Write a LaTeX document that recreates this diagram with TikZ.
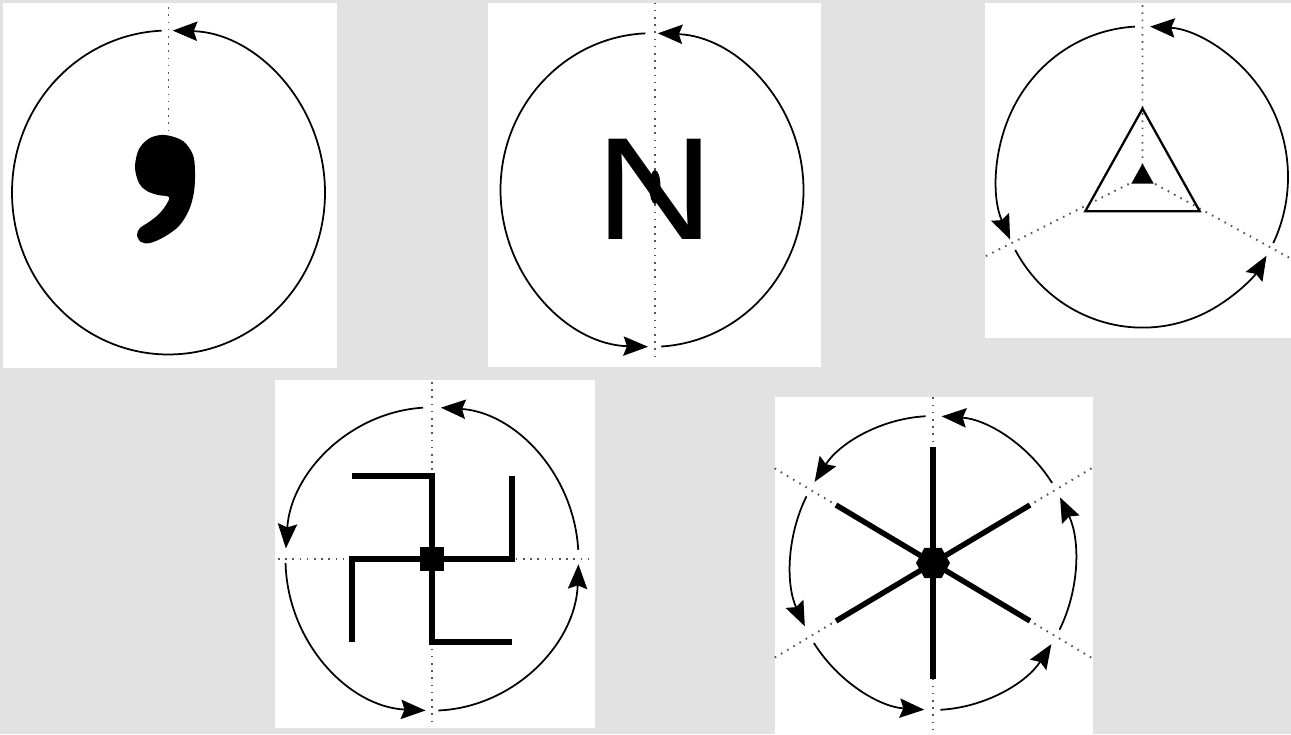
\documentclass[tikz,border=0pt]{standalone}
\usepackage{fontspec}
\setsansfont{Liberation Sans}
\usepackage{tikz}
\usetikzlibrary{arrows.meta}
\definecolor{bggray}{RGB}{226,226,226}
\definecolor{dotgray}{RGB}{85,85,85}

\begin{document}
\begin{tikzpicture}[x=0.02cm, y=0.02cm,
    panel/.style={fill=white, draw=none},
    rotarrow/.style={line width=1pt, -{Stealth[length=14pt, width=11pt, inset=2pt]}},
    symaxis/.style={dotgray, line width=1.1pt, dash pattern=on 0.9pt off 3.2pt},
    symline/.style={line width=3.1pt}
  ]
  % Hintergrund
  \fill[bggray] (0,0) rectangle (1291,-734);
  \useasboundingbox (0,0) rectangle (1291,-734);

  \fill[panel] (3,-3) rectangle (337,-368);
  \fill[panel] (488,-3) rectangle (821,-367);
  \fill[panel] (985,-3) rectangle (1291,-338);
  \fill[panel] (275,-380) rectangle (595,-728);
  \fill[panel] (775,-397) rectangle (1093,-734);

  % Feld 1: Komma
  \begin{scope}[shift={(168.5,-192.5)}, yscale=1.035]
    \draw[symaxis] (0,179) -- (0,54);
    \draw[rotarrow] (92.5:156.5) arc[start angle=92.5, end angle=448.5, radius=156.5];
  \end{scope}
  \fill plot[smooth cycle, tension=0.55] coordinates {(165,-135) (183,-141) (193,-155)
    (195,-172) (194,-192) (189,-210) (179,-226) (164,-237) (150,-243) (141,-242)
    (137,-235) (140,-228) (149,-222) (159,-214) (166,-205) (169,-197) (158,-195)
    (147,-191) (139,-183) (135,-167) (139,-149) (150,-138)};

  % Feld 2: N
  \begin{scope}[shift={(652,-190)}, yscale=1.035]
    \draw[symaxis] (3,181) -- (3,-166);
    \foreach \s/\e in {92.5/268.5, 273.5/447.8}
      \draw[rotarrow] (\s:151.5) arc[start angle=\s, end angle=\e, radius=151.5];
  \end{scope}
  \node[font=\sffamily\fontsize{83}{83}\selectfont, xscale=1.13, inner sep=0, anchor=base] (letterN) at (655,-239) {N};
  \fill (655,-187) ellipse [x radius=5.5, y radius=17];

  % Feld 3: Dreieck
  \begin{scope}[shift={(1142.5,-177)}, yscale=1.035]
    \draw[symaxis] (0,166) -- (0,0) -- (206:175);
    \draw[symaxis] (0,0) -- (332:168);
    \foreach \s/\e in {93/204.5, 209/328.5, 334/447}
      \draw[rotarrow] (\s:145.5) arc[start angle=\s, end angle=\e, radius=145.5];
    \draw[line width=1.3pt] (90:66) -- (210:66) -- (330:66) -- cycle;
    \fill (90:13) -- (210:13) -- (330:13) -- cycle;
  \end{scope}

  % Feld 4: Hakenkreuz
  \begin{scope}[shift={(432,-559)}, yscale=1.035]
    \draw[symaxis] (0,171) -- (0,-160);
    \draw[symaxis] (-154,0) -- (161,0);
    \foreach \s/\e in {3.5/86.5, 93.5/176, 181.5/267.5, 272.5/358}
      \draw[rotarrow] (\s:146.5) arc[start angle=\s, end angle=\e, radius=146.5];
    \foreach \a in {0,90,180,270}
      \draw[symline, line join=miter] (0,0) -- (\a:80) -- ++(\a+90:80);
    \fill (-12,-12) rectangle (12,12);
  \end{scope}

  % Feld 5: Stern
  \begin{scope}[shift={(933,-563)}, yscale=1.035]
    \draw[symaxis] (0,160) -- (0,-165);
    \draw[symaxis] (30:183) -- (210:183);
    \draw[symaxis] (150:183) -- (330:183);
    \foreach \s/\e in {33/86.5, 93/146.5, 153/205.5, 213/266.5, 273/326.5, 333/386.5}
      \draw[rotarrow] (\s:142) arc[start angle=\s, end angle=\e, radius=142];
    \foreach \a in {30,90,...,330}
      \draw[symline] (0,0) -- (\a:112);
    \fill (0:17) \foreach \a in {60,120,...,300} { -- (\a:17) } -- cycle;
  \end{scope}
\end{tikzpicture}
\end{document}
